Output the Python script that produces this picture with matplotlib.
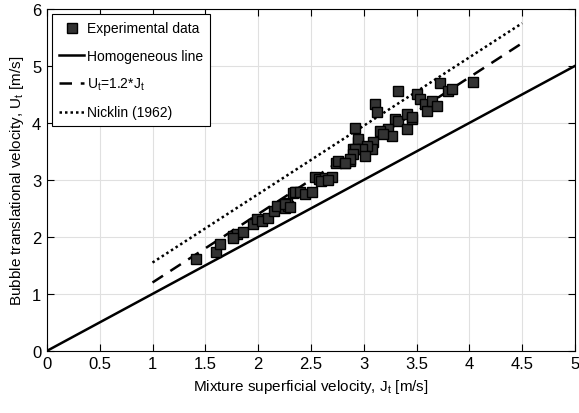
import matplotlib
matplotlib.use("Agg")
import matplotlib.pyplot as plt
import numpy as np

fam = 'Liberation Sans'
plt.rcParams['font.family'] = [fam, 'DejaVu Sans']
plt.rcParams['mathtext.fontset'] = 'custom'
plt.rcParams['mathtext.rm'] = fam
plt.rcParams['mathtext.it'] = fam

# Experimental data
jt = [1.41, 1.60, 1.64, 1.76, 1.80, 1.86, 1.76, 1.95, 1.99, 2.04, 2.09, 2.15, 2.18,
      2.25, 2.28, 2.27, 2.33, 2.36, 2.25, 2.30, 2.35, 2.40, 2.44, 2.51, 2.54, 2.58,
      2.63, 2.70, 2.74, 2.76, 2.82, 2.87, 2.90, 2.95, 3.32, 3.11, 3.13, 2.92, 2.95,
      3.30, 3.32, 3.41, 3.41, 3.46, 3.23, 3.15, 3.27, 3.18, 3.09, 3.08, 3.03, 2.98,
      2.92, 2.90, 3.01, 2.87, 2.82, 3.50, 3.72, 3.80, 3.84, 4.03, 3.53, 3.58, 3.60,
      3.65, 3.69, 3.46, 2.60, 2.66]
ut = [1.61, 1.74, 1.88, 2.02, 2.05, 2.09, 1.98, 2.23, 2.32, 2.28, 2.33, 2.46, 2.54,
      2.51, 2.54, 2.60, 2.77, 2.79, 2.58, 2.52, 2.79, 2.79, 2.75, 2.79, 3.05, 3.02,
      3.04, 3.05, 3.30, 3.33, 3.30, 3.33, 3.54, 3.67, 4.56, 4.33, 4.19, 3.91, 3.72,
      4.07, 4.04, 4.16, 3.89, 4.07, 3.89, 3.86, 3.77, 3.81, 3.67, 3.54, 3.60, 3.54,
      3.54, 3.46, 3.42, 3.37, 3.30, 4.51, 4.70, 4.56, 4.60, 4.72, 4.42, 4.33, 4.21,
      4.39, 4.30, 4.11, 2.98, 3.00]

homog_x = [0, 5]
model_x = [1, 4.5]
C0 = 1.2
drift = 0.35

fig = plt.figure(figsize=(5.79, 4.14), dpi=100)
ax = fig.add_axes([0.081, 0.150, 0.912, 0.826])

ax.plot(jt, ut, 's', ms=7, mfc='#333333', mec='black', mew=1.0, ls='none',
        label='Experimental data', zorder=3)
hx = np.array(homog_x)
ax.plot(hx, hx, '-', color='black', lw=1.8, label='Homogeneous line')
mx = np.array(model_x)
ax.plot(mx, C0 * mx, '--', color='black', lw=1.8, dashes=(5, 3.5),
        label=r'U$_\mathregular{t}$=1.2*J$_\mathregular{t}$')
ax.plot(mx, C0 * mx + drift, ':', color='black', lw=1.8, dashes=(1, 1.2),
        label='Nicklin (1962)')

ax.set_xlim(0, 5)
ax.set_ylim(0, 6)
ax.set_xticks(np.arange(0, 5.01, 0.5))
ax.set_xticklabels(['0', '0.5', '1', '1.5', '2', '2.5', '3', '3.5', '4', '4.5', '5'])
ax.set_yticks(range(0, 7))
ax.grid(True, color='#e0e0e0', lw=0.8)
ax.set_axisbelow(True)
ax.tick_params(direction='in', top=True, right=True, labelsize=12, length=5,
               width=0.8, pad=4)
for s in ax.spines.values():
    s.set_linewidth(0.8)
ax.set_xlabel(r'Mixture superficial velocity, J$_\mathregular{t}$ [m/s]', fontsize=11)
ax.set_ylabel(r'Bubble translational velocity, U$_\mathregular{t}$ [m/s]', fontsize=11)

leg = ax.legend(loc='upper left', fontsize=10, frameon=True, fancybox=False,
                edgecolor='black', framealpha=1, handlelength=1.8, handletextpad=0.2,
                borderpad=0.5, labelspacing=0.95, borderaxespad=0.4)
leg.get_frame().set_linewidth(0.8)

fig.savefig('out.png', dpi=100)
